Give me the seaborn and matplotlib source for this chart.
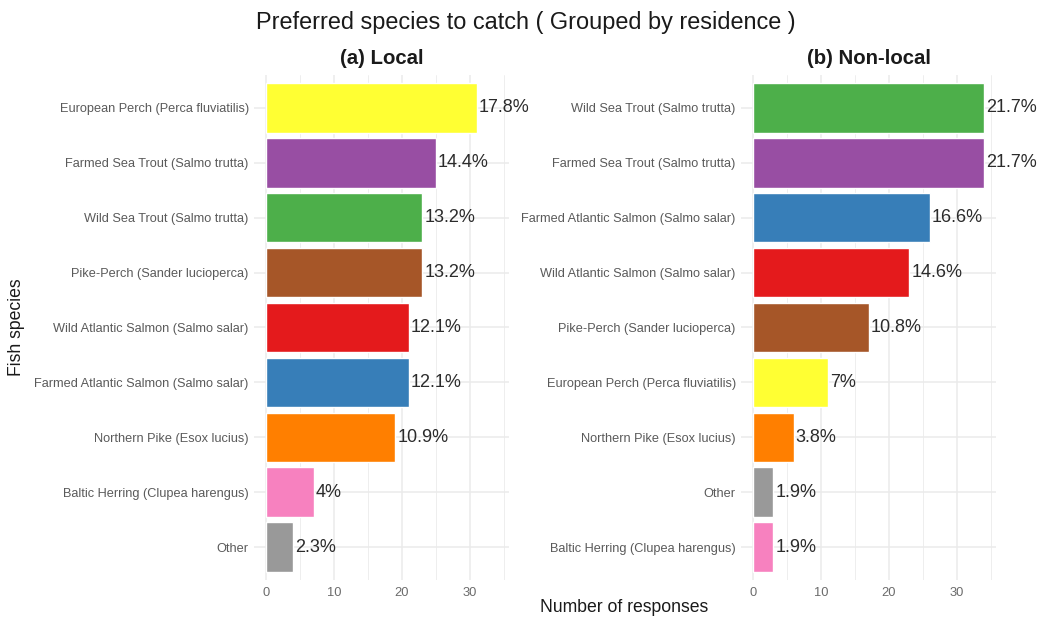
import matplotlib
matplotlib.use("Agg")
import matplotlib.pyplot as plt
import seaborn as sns
import pandas as pd
from matplotlib.ticker import MultipleLocator

# Local anglers: species ordered by number of responses
local_species = [
    "European Perch (Perca fluviatilis)",
    "Farmed Sea Trout (Salmo trutta)",
    "Wild Sea Trout (Salmo trutta)",
    "Pike-Perch (Sander lucioperca)",
    "Wild Atlantic Salmon (Salmo salar)",
    "Farmed Atlantic Salmon (Salmo salar)",
    "Northern Pike (Esox lucius)",
    "Baltic Herring (Clupea harengus)",
    "Other",
]
local_counts = [31, 25, 23, 23, 21, 21, 19, 7, 4]
local_pct = ["17.8%", "14.4%", "13.2%", "13.2%", "12.1%", "12.1%", "10.9%", "4%", "2.3%"]

# Non-local anglers
nonlocal_species = [
    "Wild Sea Trout (Salmo trutta)",
    "Farmed Sea Trout (Salmo trutta)",
    "Farmed Atlantic Salmon (Salmo salar)",
    "Wild Atlantic Salmon (Salmo salar)",
    "Pike-Perch (Sander lucioperca)",
    "European Perch (Perca fluviatilis)",
    "Northern Pike (Esox lucius)",
    "Other",
    "Baltic Herring (Clupea harengus)",
]
nonlocal_counts = [34, 34, 26, 23, 17, 11, 6, 3, 3]
nonlocal_pct = ["21.7%", "21.7%", "16.6%", "14.6%", "10.8%", "7%", "3.8%", "1.9%", "1.9%"]

species_colors = {
    "Wild Atlantic Salmon (Salmo salar)": "#E41A1C",
    "Farmed Atlantic Salmon (Salmo salar)": "#377EB8",
    "Wild Sea Trout (Salmo trutta)": "#4DAF4A",
    "Farmed Sea Trout (Salmo trutta)": "#984EA3",
    "Northern Pike (Esox lucius)": "#FF7F00",
    "European Perch (Perca fluviatilis)": "#FFFF33",
    "Pike-Perch (Sander lucioperca)": "#A65628",
    "Baltic Herring (Clupea harengus)": "#F781BF",
    "Other": "#999999",
}

sns.set_theme(style="white")
plt.rcParams["font.family"] = ["Liberation Sans", "DejaVu Sans"]

W, H = 1037, 619
fig = plt.figure(figsize=(W / 100, H / 100), dpi=100)


def px_axes(left, right, top, bottom):
    return fig.add_axes([left / W, 1 - bottom / H, (right - left) / W, (bottom - top) / H])


ax_local = px_axes(254.4, 508.8, 75, 580)
ax_nonlocal = px_axes(741.4, 995.8, 75, 580)

panels = [
    (ax_local, "(a) Local", local_species, local_counts, local_pct),
    (ax_nonlocal, "(b) Non-local", nonlocal_species, nonlocal_counts, nonlocal_pct),
]

for ax, title, species, counts, pct in panels:
    df = pd.DataFrame({"species": species, "count": counts})
    sns.barplot(
        data=df, x="count", y="species", hue="species", order=species,
        palette=species_colors, width=0.9, saturation=1, legend=False,
        ax=ax, zorder=2,
    )
    for i, (v, p) in enumerate(zip(counts, pct)):
        ax.annotate(p, xy=(v, i), xytext=(2, 0), textcoords="offset pixels",
                    ha="left", va="center", fontsize=13, color="#2B2B2B", zorder=3)

    ax.set_xlim(-1.7, 35.7)
    ax.set_ylim(8.6, -0.6)
    ax.xaxis.set_major_locator(MultipleLocator(10))
    ax.xaxis.set_minor_locator(MultipleLocator(5))
    ax.set_axisbelow(True)
    ax.grid(which="major", axis="both", color="#EBEBEB", linewidth=1.1, zorder=0)
    ax.grid(which="minor", axis="x", color="#EBEBEB", linewidth=0.6, zorder=0)
    for s in ax.spines.values():
        s.set_visible(False)
    ax.tick_params(axis="both", which="both", length=0)
    ax.tick_params(axis="y", labelsize=9.2, labelcolor="#5A5A5A", pad=4)
    ax.tick_params(axis="x", labelsize=9.3, labelcolor="#6B6B6B", pad=5)
    ax.set_xlabel("")
    ax.set_ylabel("")
    x0, _, w, _ = ax.get_position().bounds
    fig.text(x0 + w / 2, 1 - 59 / H, title, ha="center", va="center",
             fontsize=14.7, fontweight="bold", color="#1A1A1A")

fig.text(526 / W, 1 - 22 / H, "Preferred species to catch ( Grouped by residence )",
         ha="center", va="center", fontsize=16.9, color="#1A1A1A")
fig.text(624.5 / W, 1 - 607 / H, "Number of responses", ha="center", va="center",
         fontsize=12.7, color="#1A1A1A")
fig.text(17 / W, 1 - 327 / H, "Fish species", ha="center", va="center",
         rotation=90, fontsize=12.7, color="#1A1A1A")

fig.savefig("out.png", dpi=100)
